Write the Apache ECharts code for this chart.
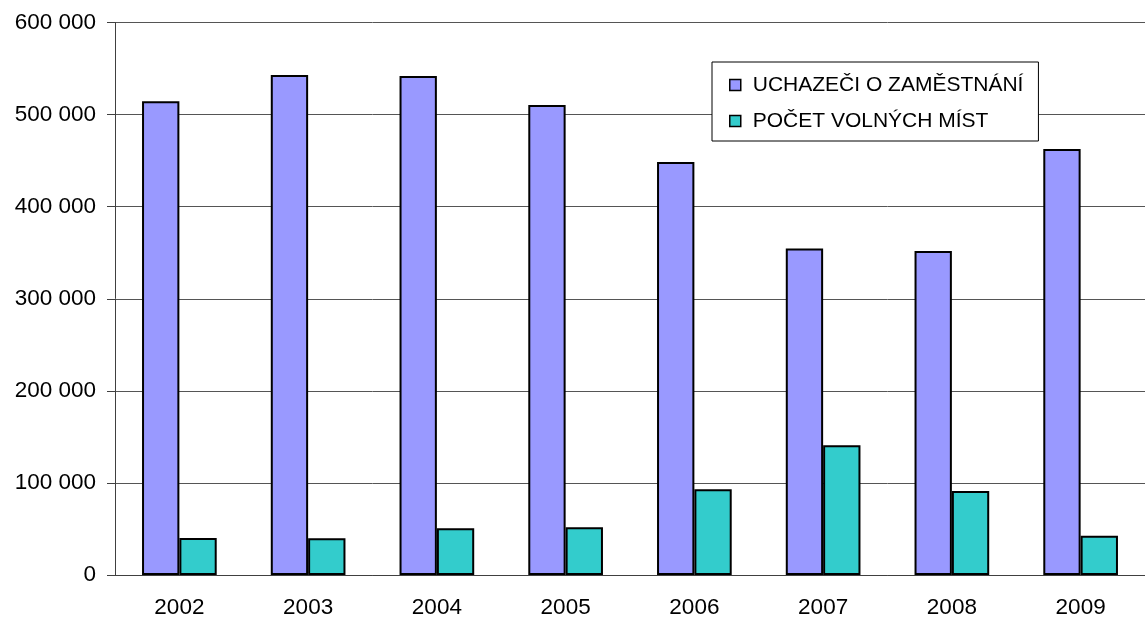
<!DOCTYPE html>
<html>
<head>
    <meta charset="utf-8">
    <script src="https://cdn.jsdelivr.net/npm/echarts@6/dist/echarts.min.js"></script>
</head>
<body style="margin:0">
    <div id="main" style="width:1145px; height:619px"></div>
    <script type="text/javascript">
        // values
        var years = ['2002', '2003', '2004', '2005', '2006', '2007', '2008', '2009'];
        var uchazeci = [514500, 543000, 542000, 510500, 448500, 354700, 351800, 462500];
        var volnaMista = [40300, 39800, 50700, 51800, 93000, 141000, 91200, 42700];
        var seriesNames = ['UCHAZEČI O ZAMĚSTNÁNÍ', 'POČET VOLNÝCH MÍST'];

        var myChart = echarts.init(document.getElementById('main'));

        var font = 'Arial, "Liberation Sans", sans-serif';

        var option = {
            animation: false,
            backgroundColor: '#fff',
            grid: {
                left: 115,
                right: 0,
                top: 22.5,
                bottom: 44
            },
            legend: {
                orient: 'vertical',
                left: 712,
                top: 62,
                padding: [12.5, 15, 9.5, 17],
                backgroundColor: '#fff',
                borderColor: '#000',
                borderWidth: 1,
                itemWidth: 11,
                itemHeight: 11,
                itemGap: 15,
                icon: 'rect',
                itemStyle: { borderColor: '#000', borderWidth: 1.5 },
                textStyle: {
                    fontFamily: font,
                    fontSize: 21,
                    lineHeight: 21,
                    color: '#000',
                    padding: [0, 0, 0, 7]
                },
                data: seriesNames
            },
            xAxis: {
                type: 'category',
                data: years,
                axisLine: { lineStyle: { color: '#404040', width: 1 } },
                axisTick: { length: 7, lineStyle: { color: '#404040' } },
                axisLabel: {
                    margin: 21,
                    fontFamily: font,
                    fontSize: 22.5,
                    color: '#000'
                }
            },
            yAxis: {
                type: 'value',
                min: 0,
                max: 600000,
                interval: 100000,
                axisLine: { show: true, lineStyle: { color: '#404040', width: 1 } },
                axisTick: { show: true, length: 8, lineStyle: { color: '#404040' } },
                splitLine: { lineStyle: { color: '#555', width: 1 } },
                axisLabel: {
                    margin: 19,
                    fontFamily: font,
                    fontSize: 22.5,
                    color: '#000',
                    formatter: function (v) {
                        return String(v).replace(/\B(?=(\d{3})+(?!\d))/g, ' ');
                    }
                }
            },
            series: [
                {
                    name: seriesNames[0],
                    type: 'bar',
                    barGap: '0%',
                    barCategoryGap: '42%',
                    itemStyle: { color: '#9999FF', borderColor: '#000', borderWidth: 2 },
                    data: uchazeci
                },
                {
                    name: seriesNames[1],
                    type: 'bar',
                    barGap: '0%',
                    barCategoryGap: '42%',
                    itemStyle: { color: '#33CCCC', borderColor: '#000', borderWidth: 2 },
                    data: volnaMista
                }
            ]
        };
        myChart.setOption(option);
    </script>
</body>
</html>
